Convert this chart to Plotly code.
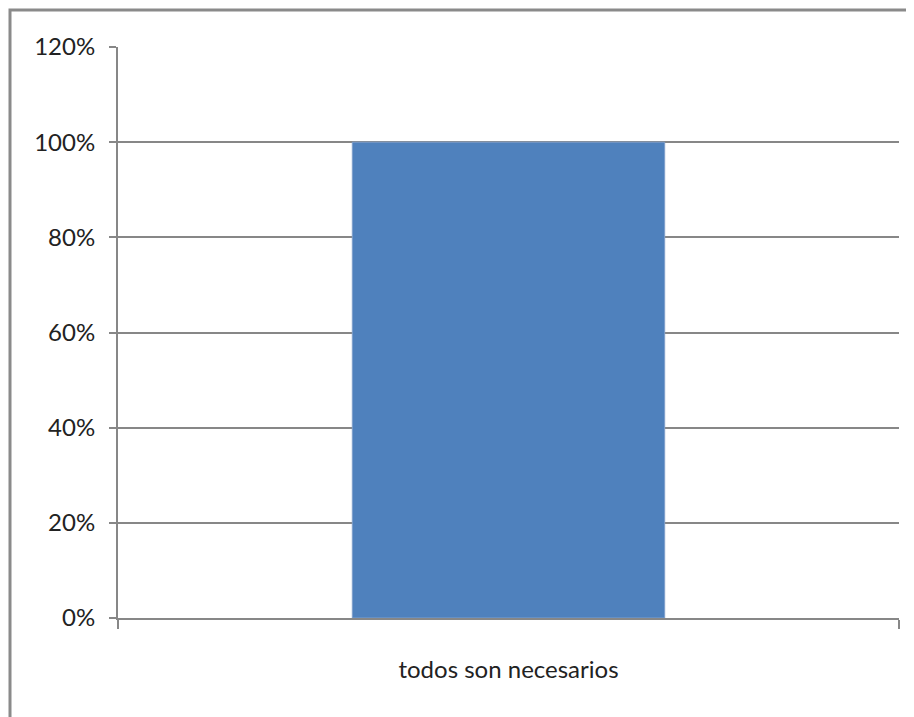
import plotly.graph_objects as go

categories = ["todos son necesarios"]
values = [1.0]
y_ticks = [0, 0.2, 0.4, 0.6, 0.8, 1.0, 1.2]

OFF = 8  # default page body margin
W, H = 914 - OFF, 717 - OFF
L, T = 118 - OFF, 47 - OFF
R = W - (899 - OFF)
B = H - (618 - OFF)
pw, ph = W - L - R, H - T - B

def px_x(x):
    return (x - OFF - L) / pw

def px_y(y):
    return (H - B - (y - OFF)) / ph

fig = go.Figure()
fig.add_trace(go.Bar(
    x=categories, y=values,
    marker=dict(color="#4F81BD", line=dict(color="#7F9FCB", width=1)),
    width=0.4,
))

grid = "#878787"
fig.update_layout(
    width=W, height=H,
    margin=dict(l=L, r=R, t=T, b=B, pad=0),
    paper_bgcolor="white", plot_bgcolor="white",
    showlegend=False,
    font=dict(family="Lato, sans-serif", size=24, color="#222222"),
    xaxis=dict(
        showline=True, linecolor=grid, linewidth=2,
        ticks="outside", ticklen=9, tickcolor=grid, tickwidth=2,
        tickson="boundaries", showgrid=False,
        ticklabelstandoff=29,
    ),
    yaxis=dict(
        range=[0, 1.2], tickvals=y_ticks, tickformat=".0%",
        showline=True, linecolor=grid, linewidth=2,
        ticks="outside", ticklen=7, tickcolor=grid, tickwidth=2,
        showgrid=True, gridcolor=grid, gridwidth=2,
        zeroline=False, ticklabelstandoff=9,
    ),
    shapes=[dict(
        type="rect", xref="paper", yref="paper",
        x0=px_x(10), x1=px_x(940), y0=px_y(760), y1=px_y(10),
        line=dict(color="#8a8a8a", width=3), fillcolor="rgba(0,0,0,0)",
        layer="below",
    )],
)

fig.write_html("out.html")
